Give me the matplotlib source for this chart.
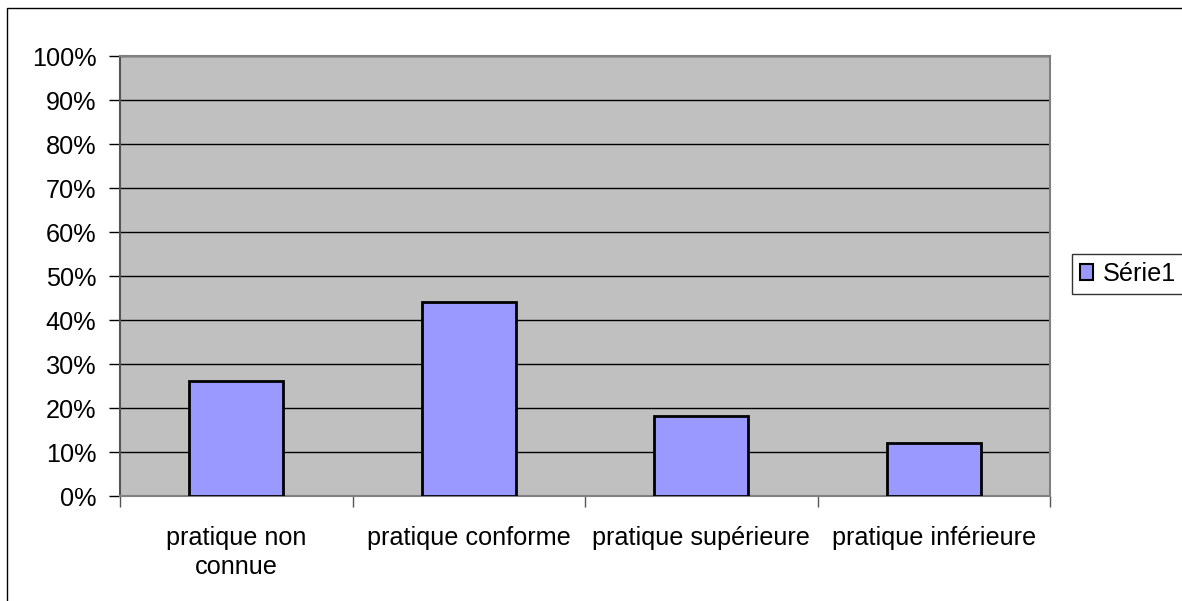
import matplotlib
matplotlib.use("Agg")
import matplotlib.pyplot as plt
from matplotlib.patches import Rectangle
from matplotlib.ticker import FuncFormatter

categories = ["pratique non\nconnue", "pratique conforme", "pratique supérieure", "pratique inférieure"]
values = [0.262, 0.442, 0.181, 0.121]
series_name = "Série1"

plt.rcParams['font.family'] = ['Liberation Sans', 'DejaVu Sans']

W, H = 1182, 601
fig = plt.figure(figsize=(W / 100, H / 100), dpi=100)
fig.patch.set_facecolor('white')

# outer chart border
fig.add_artist(Rectangle((7 / W, -0.05), 1.1, (H - 8) / H + 0.05, transform=fig.transFigure,
                         fill=False, edgecolor='black', linewidth=1.0))

ax = fig.add_axes([120 / W, (H - 496) / H, (1050 - 120) / W, (496 - 56) / H])
ax.set_facecolor('#c0c0c0')

FS = 18.2
x = list(range(len(categories)))
ax.bar(x, values, width=0.405, color='#9999ff', edgecolor='black', linewidth=2.0,
       label=series_name, zorder=3)

ax.set_xlim(-0.5, len(categories) - 0.5)
ax.set_ylim(0, 1.0)
ax.set_yticks([i / 10 for i in range(11)])
ax.yaxis.set_major_formatter(FuncFormatter(lambda v, p: f"{int(round(v * 100))}%"))
ax.yaxis.grid(True, color='black', linewidth=1.0, zorder=1)
ax.set_axisbelow(True)

ax.set_xticks(x)
ax.set_xticklabels(categories, fontsize=FS, linespacing=1.25)
ax.set_xticks([i - 0.5 for i in range(len(categories) + 1)], minor=True)
ax.tick_params(axis='x', which='major', length=0, pad=21.5)
ax.tick_params(axis='x', which='minor', length=8, width=1, color='#555555', direction='out')
ax.tick_params(axis='y', labelsize=FS, length=8, width=1, color='black', pad=9)

for side in ['top', 'right']:
    ax.spines[side].set_color('#808080')
    ax.spines[side].set_linewidth(1.5)
ax.spines['left'].set_color('#555555')
ax.spines['left'].set_linewidth(1.5)
ax.spines['bottom'].set_color('#808080')
ax.spines['bottom'].set_linewidth(1.5)

leg = ax.legend(loc='center left', bbox_to_anchor=(1072 / W, (H - 274) / H),
                bbox_transform=fig.transFigure, frameon=True, fancybox=False,
                fontsize=FS, handlelength=0.55, handleheight=0.55, handletextpad=0.35,
                borderpad=0.3, borderaxespad=0)
leg.get_frame().set_edgecolor('black')
leg.get_frame().set_linewidth(1.0)
for h in leg.legend_handles:
    h.set_linewidth(1.5)

fig.savefig("out.png", dpi=100, facecolor='white')
